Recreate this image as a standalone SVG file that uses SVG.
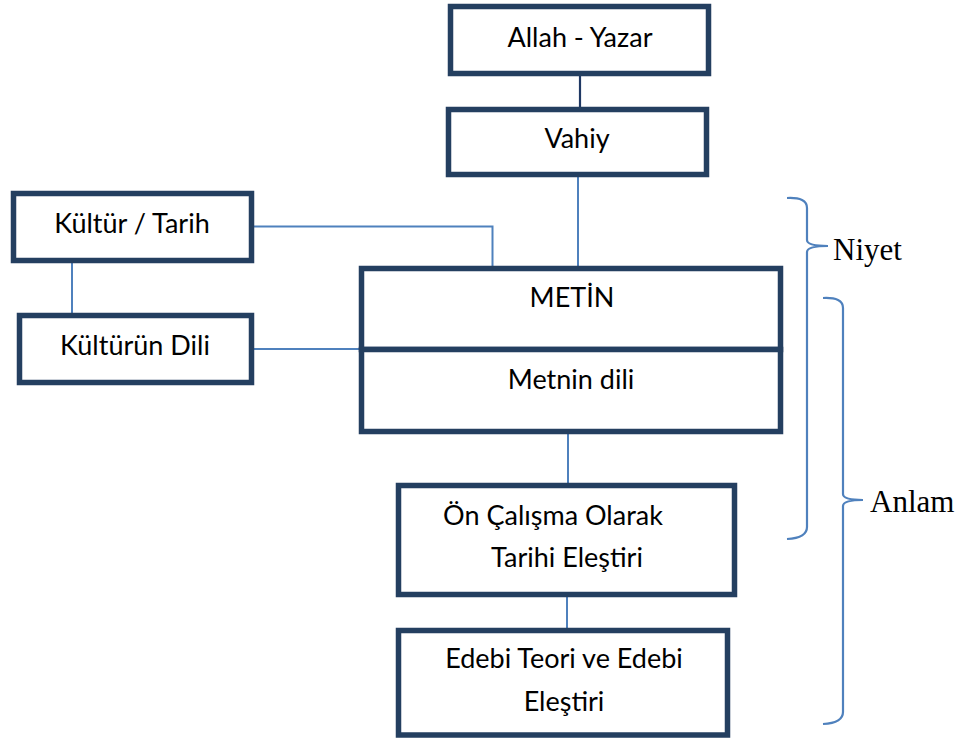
<svg xmlns="http://www.w3.org/2000/svg" width="973" height="739" viewBox="0 0 973 739">
<style>
.box{fill:#fff;stroke:#243f60;stroke-width:5.5}
.lbl{font-family:Lato,"Open Sans",sans-serif;font-size:27px;fill:#000;text-anchor:middle}
.con{fill:none;stroke:#4f81bd;stroke-width:2}
.brace{fill:none;stroke:#4f81bd;stroke-width:2.2}
.side{font-family:"Liberation Serif",serif;font-size:31px;fill:#000}
</style>
<rect width="973" height="739" fill="#fff"/>
<g id="connectors">
<line x1="580" y1="76" x2="580" y2="107" stroke="#1f3864" stroke-width="2.2"/>
<line class="con" x1="578" y1="177" x2="578" y2="266"/>
<path class="con" d="M254,226.5 H492.5 V266"/>
<line class="con" x1="72" y1="263" x2="72" y2="313"/>
<line class="con" x1="254" y1="349" x2="361" y2="349"/>
<line class="con" x1="568" y1="434" x2="568" y2="483"/>
<line class="con" x1="567" y1="597" x2="567" y2="628"/>
</g>
<g id="allah">
<rect class="box" x="450.5" y="6.5" width="258" height="67"/>
<text class="lbl" x="580" y="47">Allah - Yazar</text>
</g>
<g id="vahiy">
<rect class="box" x="448.5" y="109.5" width="258" height="65"/>
<text class="lbl" x="577" y="148">Vahiy</text>
</g>
<g id="kultur">
<rect class="box" x="13.5" y="193.5" width="238" height="67"/>
<text class="lbl" x="132" y="233">Kültür / Tarih</text>
</g>
<g id="kulturun-dili">
<rect class="box" x="19.5" y="315.5" width="232" height="67"/>
<text class="lbl" x="135" y="355">Kültürün Dili</text>
</g>
<g id="metin">
<rect class="box" x="361.5" y="268.5" width="419" height="81"/>
<text class="lbl" x="572" y="307">METİN</text>
</g>
<g id="metnin-dili">
<rect class="box" x="361.5" y="349.5" width="419" height="82"/>
<text class="lbl" x="571" y="389">Metnin dili</text>
</g>
<g id="on-calisma">
<rect class="box" x="398.5" y="485.5" width="336" height="109"/>
<text class="lbl" x="553" y="525">Ön Çalışma Olarak</text>
<text class="lbl" x="567" y="567">Tarihi Eleştiri</text>
</g>
<g id="edebi">
<rect class="box" x="398.5" y="630.5" width="329" height="104.5"/>
<text class="lbl" x="564" y="668">Edebi Teori ve Edebi</text>
<text class="lbl" x="564" y="711">Eleştiri</text>
</g>
<g id="niyet">
<path class="brace" d="M787,198 Q807,197 807,208 L807,240 Q807,246 828,246 Q807,246 807,252 L807,527 Q807,538 787,539"/>
<text class="side" x="833" y="260">Niyet</text>
</g>
<g id="anlam">
<path class="brace" d="M823,298 Q843,297 843,308 L843,494 Q843,500 863,500 Q843,500 843,506 L843,712 Q843,723 823,724"/>
<text class="side" x="870" y="512">Anlam</text>
</g>
</svg>
